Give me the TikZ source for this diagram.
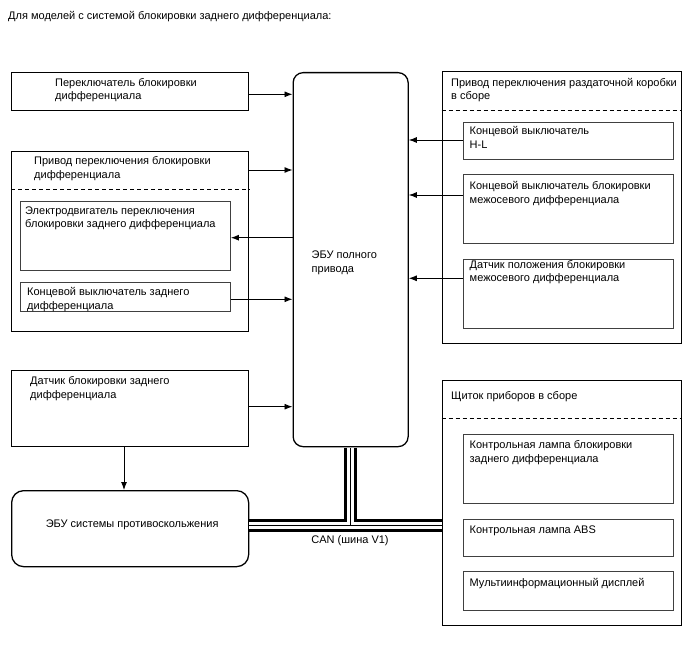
\documentclass[tikz,border=0pt]{standalone}
\usepackage{fontspec}
\setmainfont{Liberation Sans}
\usetikzlibrary{arrows.meta}
\begin{document}
\begin{tikzpicture}[x=1pt,y=-1pt,
  outer/.style={draw=black,line width=1.3pt,minimum width=#1,inner sep=0pt,anchor=north west},
  inner/.style={draw=black!75,line width=0.9pt,inner sep=0pt,anchor=north west},
  rbox/.style={draw=black,line width=1.3pt,rounded corners=10pt,inner sep=0pt,anchor=north west},
  lbl/.style={anchor=north west,inner sep=0pt,align=left,font=\fontsize{11}{13.5}\selectfont},
  arr/.style={line width=0.9pt,-{Latex[length=8pt,width=6pt]}},
  dsh/.style={line width=0.8pt,dash pattern=on 4pt off 3pt}]
\useasboundingbox (0,0) rectangle (688,658);
% title
\node[lbl] (title) at (8,11.5) {Для моделей с системой блокировки заднего дифференциала:};
% left column
\node[outer=237pt,minimum height=38pt] (a) at (11,72) {};
\node[lbl] (at) at (55,78) {Переключатель блокировки\\дифференциала};
\node[outer=237pt,minimum height=180pt] (b) at (11,151) {};
\node[lbl] (bt) at (34,156.5) {Привод переключения блокировки\\дифференциала};
\draw[dsh] (b.west |- 0,189) -- (b.east |- 0,189);
\node[inner,minimum width=210pt,minimum height=69pt] (b1) at (20,201) {};
\node[lbl] (b1t) at (25,206.5) {Электродвигатель переключения\\блокировки заднего дифференциала};
\node[inner,minimum width=210pt,minimum height=29pt] (b2) at (20,281.5) {};
\node[lbl] (b2t) at (27,287.5) {Концевой выключатель заднего\\дифференциала};
\node[outer=237pt,minimum height=76pt] (c) at (11,370) {};
\node[lbl] (ct) at (30,376.5) {Датчик блокировки заднего\\дифференциала};
\node[rbox,minimum width=237pt,minimum height=76pt,rounded corners=12pt] (abs) at (11,490) {};
\node[inner sep=0pt,font=\fontsize{11}{13.5}\selectfont] (abst) at ([xshift=2pt,yshift=4pt]abs.center) {ЭБУ системы противоскольжения};
% ECU
\node[rbox,minimum width=115pt,minimum height=374pt] (ecu) at (292.5,72) {};
\node[lbl] (ecut) at (311.5,251) {ЭБУ полного\\привода};
% right column
\node[outer=239pt,minimum height=272pt] (d) at (441.5,71) {};
\node[lbl] (dt) at (451,78) {Привод переключения раздаточной коробки\\в сборе};
\draw[dsh] (d.west |- 0,110) -- (d.east |- 0,110);
\node[inner,minimum width=210pt,minimum height=37.5pt] (d1) at (462.5,122) {};
\node[lbl] (d1t) at (469.5,126.5) {Концевой выключатель\\H-L};
\node[inner,minimum width=210pt,minimum height=68.5pt] (d2) at (462.5,174.3) {};
\node[lbl] (d2t) at (469.5,181.5) {Концевой выключатель блокировки\\межосевого дифференциала};
\node[inner,minimum width=210pt,minimum height=68.5pt] (d3) at (462.5,259) {};
\node[lbl] (d3t) at (469.5,260) {Датчик положения блокировки\\межосевого дифференциала};
\node[outer=239pt,minimum height=245pt] (e) at (441.5,380) {};
\node[lbl] (et) at (451,391.5) {Щиток приборов в сборе};
\draw[dsh] (e.west |- 0,418) -- (e.east |- 0,418);
\node[inner,minimum width=210pt,minimum height=68.5pt] (e1) at (462.5,434) {};
\node[lbl] (e1t) at (469.5,440.5) {Контрольная лампа блокировки\\заднего дифференциала};
\node[inner,minimum width=210pt,minimum height=37.5pt] (e2) at (462.5,518.5) {};
\node[lbl] (e2t) at (469.5,525.5) {Контрольная лампа ABS};
\node[inner,minimum width=210pt,minimum height=38.5pt] (e3) at (462.5,571) {};
\node[lbl] (e3t) at (469.5,578) {Мультиинформационный дисплей};
% connectors
\draw[arr] (a.east |- 0,94.3) -- (ecu.west |- 0,94.3);
\draw[arr] (b.east |- 0,170) -- (ecu.west |- 0,170);
\draw[arr] (ecu.west |- 0,237.7) -- (b1.east |- 0,237.7);
\draw[arr] (b2.east |- 0,299.3) -- (ecu.west |- 0,299.3);
\draw[arr] (c.east |- 0,406.7) -- (ecu.west |- 0,406.7);
\draw[arr] (c.south -| 124,0) -- (abs.north -| 124,0);
\draw[arr] (d1.west |- 0,140) -- (ecu.east |- 0,140);
\draw[arr] (d2.west |- 0,195) -- (ecu.east |- 0,195);
\draw[arr] (d3.west |- 0,278.3) -- (ecu.east |- 0,278.3);
% CAN bus
\coordinate (j) at (ecu.south |- 0,525.5);
\foreach \w/\c in {13/black,7/white,1.4/black}{
  \draw[line width=\w pt,\c] ([yshift=-0.7pt]ecu.south) -- (j);
  \draw[line width=\w pt,\c] (abs.east |- j) -- (e.west |- j);
}
\node[inner sep=0pt,font=\fontsize{11}{13.5}\selectfont] (can) at (350,541) {CAN (шина V1)};
\end{tikzpicture}
\end{document}
